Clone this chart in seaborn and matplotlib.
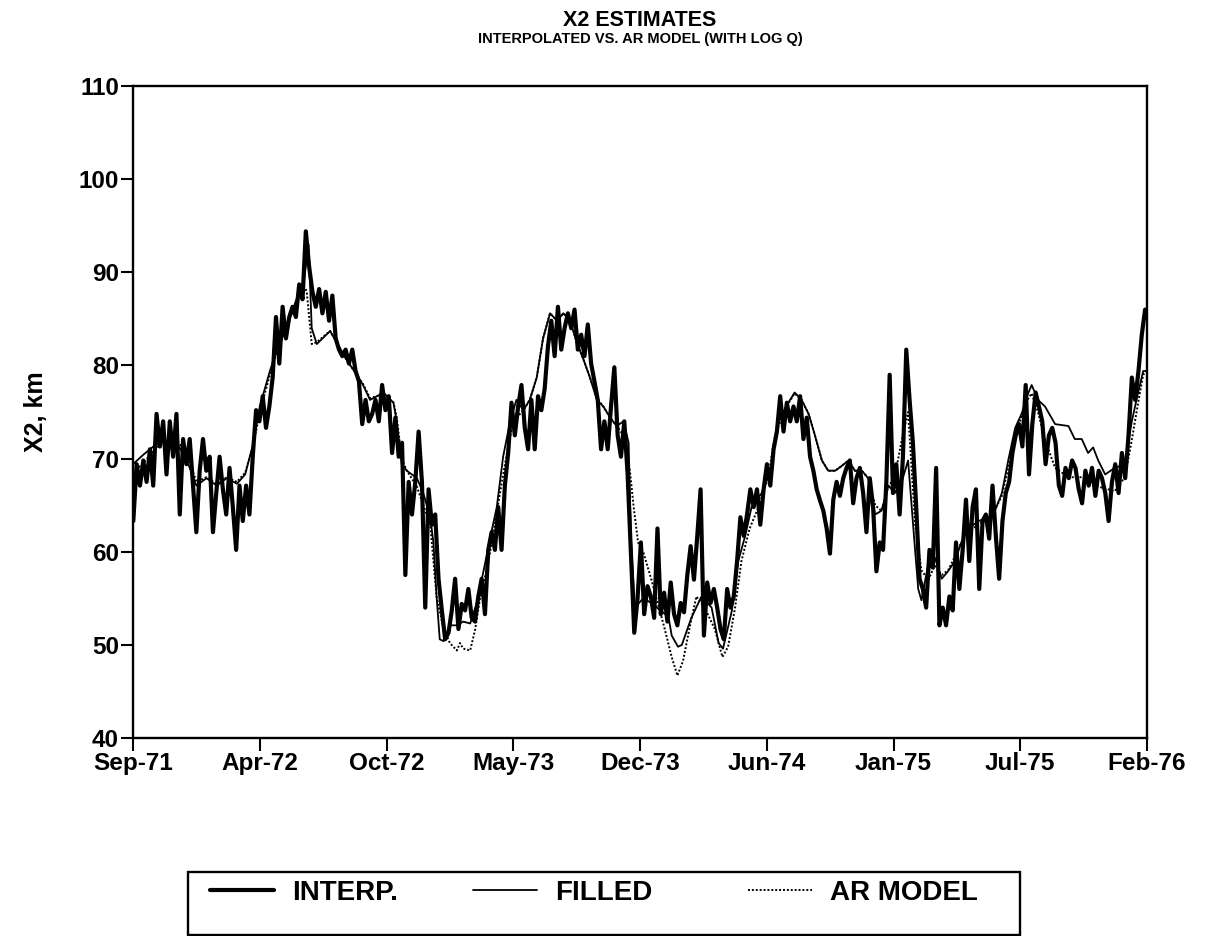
import numpy as np
import pandas as pd
import matplotlib
matplotlib.use("Agg")
import matplotlib.pyplot as plt
from matplotlib.patches import Rectangle
import seaborn as sns

# ---- data: X2 position (km) against days since 1 Sep 1971 ----
tick_days = [0, 200, 400, 600, 800, 1000, 1200, 1400, 1600]
tick_labels = ["Sep-71", "Apr-72", "Oct-72", "May-73", "Dec-73",
               "Jun-74", "Jan-75", "Jul-75", "Feb-76"]

# interpolated daily estimates, sampled on a regular grid
interp_first = [
    63.3, 69.4, 67.1, 69.8, 67.5, 71.0, 67.1, 74.8, 71.3, 74.0,
    68.3, 74.0, 70.2, 74.8, 64.0, 72.1, 69.4, 72.1, 67.1, 62.1,
    68.7, 72.1, 68.7, 70.2, 62.1, 66.3, 70.2, 66.7, 64.0, 69.0,
    64.8, 60.2, 67.1, 63.3, 67.1, 64.0, 70.2, 75.2, 74.0, 76.7,
    73.3, 75.6, 78.7, 85.2, 80.2, 86.3, 82.9, 85.2, 86.3, 85.2,
    88.7, 87.1, 94.4, 90.6, 87.9, 86.3, 88.2, 85.6, 87.9, 84.8,
    87.5, 82.9, 81.7, 81.0, 81.7, 80.2, 81.7, 79.4, 78.3, 73.7,
    76.3, 74.0, 74.8, 76.3, 74.0, 77.9, 75.2, 76.7, 70.6, 74.4,
    70.2, 71.7, 57.5, 67.5, 64.0, 67.5, 72.9, 67.5, 54.0, 66.7,
    62.9, 64.0, 57.1, 53.7, 50.6, 51.3, 53.7, 57.1, 51.7, 54.4,
    53.7, 56.0, 52.9, 52.5, 55.2, 57.1, 53.3, 60.2, 62.1, 60.2,
    64.8, 60.2, 67.1, 70.6, 76.0, 72.5, 75.6, 77.9, 73.3, 71.0,
    76.3, 71.0, 76.7, 75.2, 77.5, 82.1, 84.8, 81.0, 86.3, 81.7,
    84.0, 85.6, 84.0, 86.0, 81.7, 83.3, 81.0, 84.4, 80.2, 78.3,
    76.3, 71.0, 74.0, 71.0, 75.6, 79.8, 72.5, 70.2, 74.0, 68.3,
    59.8, 51.3, 55.0,
]
interp_second = [
    61.0, 53.3, 56.3, 55.2, 52.9, 62.5, 53.3, 55.6, 52.5, 56.7,
    53.3, 52.1, 54.5, 53.5, 57.5, 60.6, 57.0, 61.7, 66.7, 51.0,
    56.7, 54.5, 56.0, 54.0, 51.7, 50.6, 56.0, 54.0, 55.2, 59.0,
    63.7, 61.7, 64.0, 66.7, 64.8, 66.7, 62.9, 66.7, 69.4, 67.1,
    71.0, 72.9, 76.7, 72.9, 76.0, 74.0, 75.6, 74.0, 76.7, 72.1,
    74.4, 70.2, 68.7, 66.7, 65.5, 64.4, 62.5, 59.8, 65.6, 67.5,
    66.0, 67.9, 69.0, 69.8, 65.2, 67.9, 69.0, 66.3, 62.1, 67.9,
    64.8, 57.9, 61.0, 60.2, 67.5, 79.0, 66.3, 69.4, 64.0, 70.2,
    81.7, 76.3, 71.7, 64.8, 57.1, 56.0, 54.0, 60.2, 58.3, 69.0,
    52.1, 54.0, 52.1, 55.2, 53.7, 61.0, 56.0, 60.2, 65.6, 59.0,
    64.8, 66.7, 56.0, 63.3, 64.0, 61.4, 67.1, 61.7, 57.1, 63.3,
    66.3, 67.5, 70.6, 72.5, 73.7, 71.3, 77.9, 68.3, 73.7, 77.1,
    75.6, 74.0, 69.4, 72.5, 73.3, 71.7, 67.1, 66.0, 69.0, 67.9,
    69.8, 69.0, 66.7, 65.2, 68.7, 67.1, 69.0, 66.0, 68.7, 67.9,
    66.3, 63.3, 67.5, 69.4, 66.3, 70.6, 67.9, 72.5, 78.7, 76.3,
    79.4, 83.3, 86.0,
]
interp_values = interp_first + interp_second
interp_days = np.linspace(0.5, 1597, len(interp_values))

# gap-filled series
filled_days = [
    0, 16, 32, 48, 69, 85, 100, 116, 132, 148, 164, 177, 190, 200, 216,
    227, 242, 258, 269, 277, 282, 290, 311, 321, 337, 353, 363, 374, 385,
    395, 411, 416, 424, 432, 448, 458, 469, 474, 479, 484, 490, 500, 511,
    521, 532, 542, 553, 563, 574, 584, 595, 605, 616, 626, 637, 647, 658,
    669, 679, 690, 700, 711, 721, 732, 742, 753, 763, 774, 782, 786, 792,
    805, 818, 845, 850, 860, 866, 881, 897, 913, 924, 931, 945, 955, 966,
    976, 992, 1008, 1018, 1034, 1044, 1055, 1066, 1076, 1087, 1097, 1108,
    1118, 1129, 1139, 1150, 1160, 1171, 1181, 1192, 1202, 1213, 1223,
    1234, 1239, 1244, 1255, 1265, 1276, 1286, 1297, 1307, 1318, 1334,
    1350, 1360, 1371, 1381, 1392, 1402, 1413, 1418, 1428, 1439, 1455,
    1476, 1486, 1497, 1507, 1515, 1523, 1534, 1549, 1565, 1576, 1586,
    1594, 1600,
]
filled_values = [
    69.4, 70.4, 71.3, 71.9, 71.7, 69.8, 67.1, 67.9, 67.1, 67.9, 67.3, 68.3,
    71.7, 75.6, 79.4, 81.7, 84.0, 87.1, 88.7, 93.0, 84.0, 82.3, 83.7, 82.5,
    80.6, 79.0, 77.9, 76.3, 76.7, 77.1, 76.0, 74.0, 69.4, 68.7, 67.9, 66.3,
    63.7, 61.0, 55.2, 50.6, 50.4, 52.1, 52.1, 52.5, 52.3, 54.4, 57.9, 61.3,
    64.8, 70.2, 74.0, 76.3, 75.2, 76.3, 78.7, 82.9, 85.6, 84.8, 85.6, 84.8,
    82.5, 80.6, 78.7, 76.3, 75.6, 74.4, 73.5, 74.0, 71.7, 61.0, 54.0,
    55.0, 54.5, 53.0, 51.0, 49.8, 50.0, 52.9, 55.2, 54.0, 50.2, 49.6,
    53.7, 59.0, 61.7, 64.8, 66.3, 69.4, 74.0, 76.0, 77.1, 76.3, 74.8,
    72.5, 69.8, 68.7, 68.7, 69.2, 69.8, 68.7, 68.7, 67.9, 64.0, 64.4,
    67.1, 66.3, 67.5, 69.8, 60.2, 56.0, 54.8, 58.7, 59.4, 57.1, 57.9,
    59.0, 61.0, 62.5, 63.3, 63.7, 64.4, 66.3, 69.8, 73.3, 74.8, 77.1,
    77.9, 76.3, 75.6, 73.7, 73.5, 72.1, 72.1, 70.6, 71.2, 69.8, 68.3,
    69.0, 69.4, 74.0, 77.1, 79.4, 79.4,
]

# autoregressive model with log Q
ar_days = [
    0, 16, 32, 48, 69, 85, 100, 116, 132, 148, 164, 177, 190, 200, 216,
    227, 242, 258, 269, 274, 282, 290, 311, 321, 337, 353, 363, 374, 385,
    395, 411, 416, 424, 432, 448, 458, 469, 479, 490, 500, 511, 516, 521,
    532, 540, 548, 559, 569, 580, 590, 600, 616, 626, 637, 647, 658, 669,
    679, 690, 700, 711, 721, 732, 742, 753, 763, 774, 784, 790, 797, 805,
    818, 839, 850, 859, 868, 879, 889, 902, 918, 930, 939, 950, 960, 973,
    987, 1002, 1013, 1030, 1044, 1055, 1066, 1076, 1087, 1097, 1108,
    1118, 1129, 1139, 1150, 1160, 1171, 1181, 1192, 1202, 1213, 1223,
    1234, 1244, 1255, 1265, 1276, 1286, 1297, 1307, 1318, 1334, 1350,
    1360, 1371, 1381, 1392, 1402, 1413, 1418, 1428, 1439, 1455, 1476,
    1497, 1523, 1549, 1565, 1576, 1586, 1594, 1600,
]
ar_values = [
    68.5, 69.5, 70.8, 71.8, 72.0, 70.5, 67.5, 68.0, 67.3, 68.0, 67.5, 68.5,
    71.5, 75.0, 79.0, 81.5, 84.0, 87.0, 88.5, 88.0, 82.3, 82.5, 83.7, 82.5,
    80.6, 79.0, 78.0, 76.5, 76.7, 77.0, 76.0, 74.5, 70.0, 68.7, 67.0, 65.0,
    62.9, 55.2, 51.7, 50.2, 49.4, 50.2, 49.6, 49.4, 51.7, 55.2, 58.3, 62.1,
    66.7, 70.6, 74.0, 75.2, 76.3, 78.7, 82.9, 85.6, 84.8, 85.6, 84.8, 82.5,
    80.6, 78.7, 76.5, 75.6, 74.4, 73.5, 72.5, 68.7, 64.8, 61.0, 60.0,
    57.0, 51.7, 48.7, 46.7, 48.3, 52.1, 55.2, 54.0, 51.7, 48.7, 49.8,
    54.0, 59.0, 62.5, 64.8, 67.9, 72.5, 75.5, 77.0, 76.3, 74.8, 72.5,
    69.8, 68.7, 68.7, 69.2, 69.8, 68.7, 68.7, 67.9, 65.0, 64.4, 67.0,
    68.0, 72.0, 75.0, 63.0, 58.0, 57.0, 58.5, 57.5, 58.0, 59.5, 61.0,
    62.0, 63.0, 63.5, 64.5, 66.0, 69.0, 72.5, 74.5, 76.5, 77.0, 75.0,
    72.0, 69.0, 68.0, 68.0, 67.0, 66.5, 68.0, 72.0, 76.0, 79.0, 79.5,
]

series_order = ["INTERP.", "FILLED", "AR MODEL"]

frames = [
    pd.DataFrame({"day": interp_days, "x2": interp_values, "series": "INTERP."}),
    pd.DataFrame({"day": filled_days, "x2": filled_values, "series": "FILLED"}),
    pd.DataFrame({"day": ar_days, "x2": ar_values, "series": "AR MODEL"}),
]
data = pd.concat(frames, ignore_index=True)

sns.set_style("ticks")
plt.rcParams["font.family"] = ["Liberation Sans", "DejaVu Sans"]
plt.rcParams["font.weight"] = "bold"
plt.rcParams["text.color"] = "black"
plt.rcParams["axes.labelcolor"] = "black"
plt.rcParams["xtick.color"] = "black"
plt.rcParams["ytick.color"] = "black"

fig = plt.figure(figsize=(12.07, 9.36), dpi=100)
ax = fig.add_axes([0.1102, 0.2115, 0.8401, 0.6966])

styles = {
    "INTERP.": dict(lw=3.0, ls="-"),
    "FILLED": dict(lw=1.3, ls="-"),
    "AR MODEL": dict(lw=1.4, ls=(0, (1, 1))),
}
for name in ["AR MODEL", "FILLED", "INTERP."]:
    sub = data[data["series"] == name]
    sns.lineplot(data=sub, x="day", y="x2", ax=ax, color="black",
                 linewidth=styles[name]["lw"], linestyle=styles[name]["ls"],
                 label=name, estimator=None, sort=False, legend=False)

ax.set_xlim(0, 1600)
ax.set_ylim(40, 110)
ax.set_xticks(tick_days)
ax.set_xticklabels(tick_labels)
ax.set_yticks(range(40, 111, 10))
for side in ["left", "right", "top", "bottom"]:
    ax.spines[side].set_visible(True)
    ax.spines[side].set_linewidth(1.7)
    ax.spines[side].set_color("black")
ax.tick_params(axis="both", direction="out", length=9, width=1.5,
               labelsize=17.5, colors="black", pad=1)
for lab in ax.get_xticklabels() + ax.get_yticklabels():
    lab.set_fontweight("bold")
ax.set_xlabel("")
ax.set_ylabel("X2, km", fontsize=18, fontweight="bold", labelpad=22)

fig.text(0.5302, 0.978, "X2 ESTIMATES", ha="center", va="center",
         fontsize=15.5, fontweight="bold",
         family=["Liberation Sans Narrow", "Liberation Sans", "DejaVu Sans"])
fig.text(0.5302, 0.958, "INTERPOLATED VS. AR MODEL (WITH LOG Q)",
         ha="center", va="center", fontsize=10.5, fontweight="bold")

# legend entries placed in a box beneath the plot
handles, labels = ax.get_legend_handles_labels()
hmap = dict(zip(labels, handles))
entry_left = {"INTERP.": 210, "FILLED": 473, "AR MODEL": 748}
for name in series_order:
    fig.legend([hmap[name]], [name], frameon=False, loc="center left",
               bbox_to_anchor=(entry_left[name] / 1207, 1 - 893 / 936),
               borderpad=0, borderaxespad=0, handlelength=2.3,
               handletextpad=0.65, prop={"weight": "bold", "size": 20})
fig.patches.append(Rectangle((188 / 1207, 1 - 935 / 936), (1020 - 188) / 1207,
                             (935 - 872) / 936, transform=fig.transFigure,
                             fill=False, edgecolor="black", linewidth=1.7))

fig.savefig("out.png", dpi=100)
